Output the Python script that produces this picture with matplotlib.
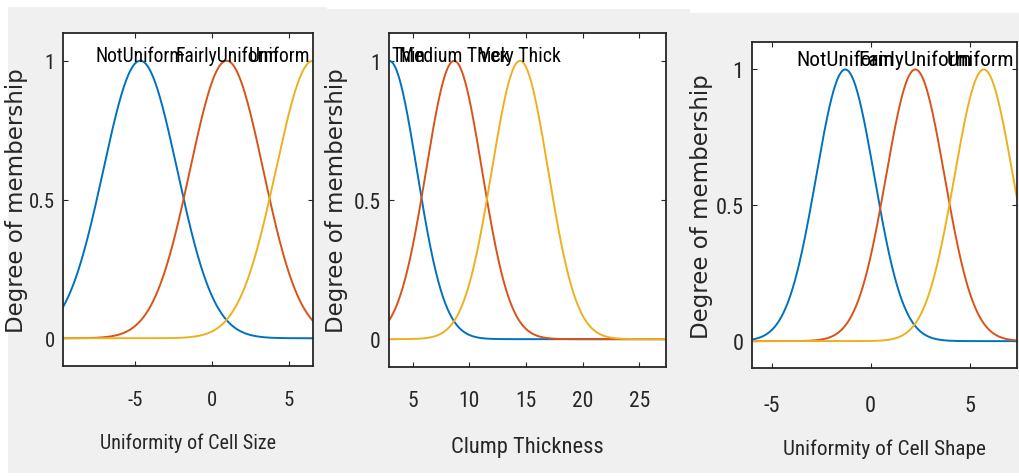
import numpy as np
import matplotlib
matplotlib.use("Agg")
import matplotlib.pyplot as plt
from matplotlib import font_manager
from matplotlib.font_manager import FontProperties
from matplotlib.patches import Rectangle

# ---------------- data ----------------
p1_xlabel = "Uniformity of Cell Size"
p1_names = ["NotUniform", "FairlyUniform", "Uniform"]
p1_centers = [-4.66, 0.95, 6.56]
p1_sigmas = [2.40, 2.38, 2.41]
p1_range = [-9.68, 6.56]
p1_xticks = [-5, 0, 5]

p2_xlabel = "Clump Thickness"
p2_names = ["Thin", "Medium Thick", "Very Thick"]
p2_centers = [2.93, 8.65, 14.47]
p2_sigmas = [2.44, 2.47, 2.49]
p2_range = [2.93, 27.36]
p2_xticks = [5, 10, 15, 20, 25]

p3_xlabel = "Uniformity of Cell Shape"
p3_names = ["NotUniform", "FairlyUniform", "Uniform"]
p3_centers = [-1.28, 2.26, 5.72]
p3_sigmas = [1.47, 1.48, 1.48]
p3_range = [-6.01, 7.40]
p3_xticks = [-5, 0, 5]

yticks = [0, 0.5, 1]
ytick_labels = ["0", "0.5", "1"]
ylabel_text = "Degree of membership"
mf_colors = ["#0072BD", "#D95319", "#EDB120"]

# ---------------- fonts ----------------
def pick_narrow():
    cands = []
    for f in font_manager.fontManager.ttflist:
        nm = f.name.lower()
        st = str(f.stretch).lower()
        if f.style != "normal" or f.weight not in (400, "normal", "regular"):
            continue
        if "narrow" in nm or "condensed" in nm or st in ("condensed", "semi-condensed", "extra-condensed"):
            if "mono" in nm or "serif" in nm and "sans" not in nm:
                continue
            cands.append(f)
    if cands:
        pref = sorted(cands, key=lambda f: (0 if "liberation" in f.name.lower() else
                                            1 if "roboto" in f.name.lower() else
                                            2 if "dejavu" in f.name.lower() else 3))
        return FontProperties(fname=pref[0].fname)
    return FontProperties(family="Liberation Sans")

NARROW = pick_narrow()
TXT = "#262626"

W, H = 1019, 477
fig = plt.figure(figsize=(W / 100, H / 100), dpi=100, facecolor="#f0f0f0")
renderer = fig.canvas.get_renderer()


def fit_size(s, target_px, cap_pt, boost=1.03):
    fp = NARROW.copy()
    fp.set_size(10)
    w, _, _ = renderer.get_text_width_height_descent(s, fp, ismath=False)
    return min(10 * target_px / w * boost, cap_pt)


def fp_at(size):
    fp = NARROW.copy()
    fp.set_size(size)
    return fp


# white margins of the screenshot
for (l, t, r, b) in [(0, 0, W, 8), (327, 0, W, 10), (690, 0, W, 14), (0, 0, 8, H), (0, 474, W, H)]:
    fig.patches.append(Rectangle((l / W, 1 - b / H), (r - l) / W, (b - t) / H,
                                 transform=fig.transFigure, facecolor="white",
                                 edgecolor="none", zorder=-10))

panels = [
    dict(xlabel=p1_xlabel, names=p1_names, centers=p1_centers, sigmas=p1_sigmas,
         rng=p1_range, xticks=p1_xticks,
         box=(63, 34, 313, 367), mfw=86.7, tickw=25, xlw=170, xpad=17.0, xl_gap=67,
         yl_right=28, label_dy=0.0),
    dict(xlabel=p2_xlabel, names=p2_names, centers=p2_centers, sigmas=p2_sigmas,
         rng=p2_range, xticks=p2_xticks,
         box=(389.3, 34, 666, 368), mfw=88, tickw=26, xlw=147, xpad=16.3, xl_gap=69,
         yl_right=348, label_dy=0.0),
    dict(xlabel=p3_xlabel, names=p3_names, centers=p3_centers, sigmas=p3_sigmas,
         rng=p3_range, xticks=p3_xticks,
         box=(751.7, 43.3, 1017, 369.3), mfw=95, tickw=27, xlw=196, xpad=19.0, xl_gap=70,
         yl_right=713, label_dy=0.018),
]

label_texts = []
for p in panels:
    l, t, r, b = p["box"]
    ax = fig.add_axes([l / W, 1 - b / H, (r - l) / W, (b - t) / H])
    ax.set_facecolor("white")
    x = np.linspace(p["rng"][0], p["rng"][1], 600)
    for c, s, col in zip(p["centers"], p["sigmas"], mf_colors):
        ax.plot(x, np.exp(-((x - c) ** 2) / (2 * s ** 2)), color=col, lw=1.4)
    ax.set_xlim(p["rng"])
    ax.set_ylim(-0.1, 1.1)

    tfs = fit_size("0.5", p["tickw"], 20)
    ax.set_xticks(p["xticks"])
    ax.set_xticklabels([str(v) for v in p["xticks"]], fontproperties=fp_at(tfs), color=TXT)
    ax.set_yticks(yticks)
    ax.set_yticklabels(ytick_labels, fontproperties=fp_at(tfs), color=TXT)
    ax.tick_params(direction="in", top=True, right=True, length=3.5, width=0.8, color=TXT)
    ax.tick_params(axis="x", pad=p["xpad"])
    ax.tick_params(axis="y", pad=6)
    for sp in ax.spines.values():
        sp.set_color(TXT)
        sp.set_linewidth(1.3)

    xfs = fit_size(p["xlabel"], p["xlw"], 20)
    ax.set_xlabel(p["xlabel"], fontproperties=fp_at(xfs), color=TXT)
    ax.xaxis.set_label_coords(0.5, -p["xl_gap"] / (b - t))
    ax.set_ylabel(ylabel_text, fontfamily="DejaVu Sans", fontsize=16.5, color=TXT)
    ax.yaxis.set_label_coords((p["yl_right"] - l) / (r - l), 0.5)

    mfs = fit_size("NotUniform", p["mfw"], 20)
    for name, c in zip(p["names"], p["centers"]):
        tx = ax.text(c, 1.0 + p["label_dy"], name, ha="center", va="baseline",
                     fontproperties=fp_at(mfs), color="black")
        label_texts.append((ax, tx))

# keep membership labels inside the axes (as MATLAB plotmf does)
fig.canvas.draw()
for ax, tx in label_texts:
    bb = tx.get_window_extent(renderer)
    abb = ax.get_window_extent(renderer)
    if bb.x1 > abb.x1 - 3:
        tx.set_ha("right")
        tx.set_x(ax.transData.inverted().transform((abb.x1 - 3, 0))[0])
    elif bb.x0 < abb.x0 + 2:
        tx.set_ha("left")
        tx.set_x(ax.transData.inverted().transform((abb.x0 + 2, 0))[0])

fig.savefig("out.png", dpi=100, facecolor=fig.get_facecolor())
